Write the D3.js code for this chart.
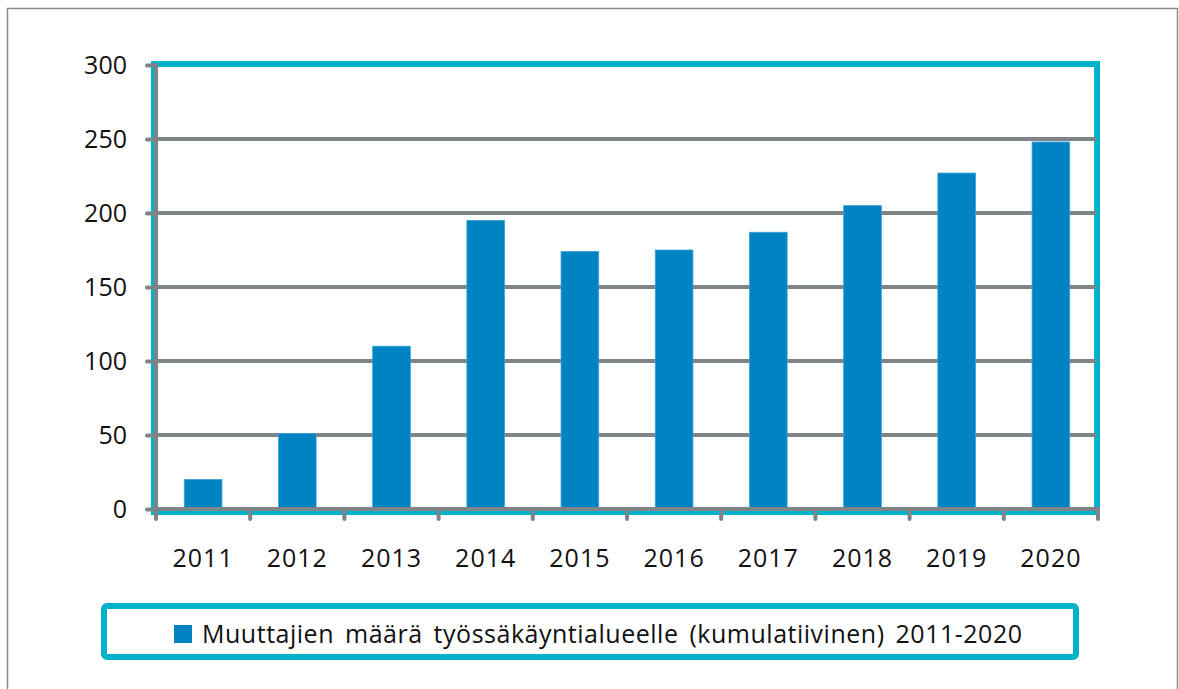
<!DOCTYPE html>
<html>
<head>
<meta charset="utf-8">
<script src="https://cdn.jsdelivr.net/npm/d3@7"></script>
<style>
  html, body { margin: 0; padding: 0; background: #fff; }
  svg { display: block; }
  text { font-family: "Open Sans", "Noto Sans", sans-serif; fill: #111; }
</style>
</head>
<body>
<svg id="chart" width="1179" height="689"></svg>
<script>
// Muuttajien määrä työssäkäyntialueelle, kumulatiivinen
const years = ["2011","2012","2013","2014","2015","2016","2017","2018","2019","2020"];
const values = [20, 51, 110, 195, 174, 175, 187, 205, 227, 248];
const yTicks = [0, 50, 100, 150, 200, 250, 300];
const seriesName = "Muuttajien määrä työssäkäyntialueelle (kumulatiivinen) 2011-2020";

const svg = d3.select("#chart");
const W = 1179, H = 689;
const plot = { left: 156, right: 1098, top: 65, bottom: 509 };
const grey = "#7f8488", cyan = "#00b3ca", blue = "#0083c3";

// outer chart frame
svg.append("rect")
  .attr("x", 7.5).attr("y", 8.5)
  .attr("width", 1170).attr("height", 690)
  .attr("fill", "#fff").attr("stroke", "#8a8a8a").attr("stroke-width", 1.5);

const x = d3.scaleBand().domain(years).range([plot.left, plot.right]).paddingInner(0.6).paddingOuter(0.3);
const y = d3.scaleLinear().domain([0, 300]).range([plot.bottom, plot.top]);

// plot-area border
svg.append("rect")
  .attr("x", plot.left - 2).attr("y", plot.top - 1)
  .attr("width", plot.right - plot.left + 1).attr("height", plot.bottom - plot.top + 4)
  .attr("fill", "none").attr("stroke", cyan).attr("stroke-width", 6);

// horizontal gridlines
svg.append("g").selectAll("line")
  .data(yTicks.filter(d => d > 0 && d < 300))
  .join("line")
  .attr("x1", plot.left).attr("x2", plot.right - 2)
  .attr("y1", d => y(d)).attr("y2", d => y(d))
  .attr("stroke", grey).attr("stroke-width", 4);

// bars
svg.append("g").selectAll("rect")
  .data(values)
  .join("rect")
  .attr("x", (d, i) => x(years[i]))
  .attr("y", d => y(d))
  .attr("width", x.bandwidth())
  .attr("height", d => y(0) - y(d))
  .attr("fill", blue)
  .attr("stroke", "#3aa3d8").attr("stroke-width", 0.8);

// y axis
const yAxis = d3.axisLeft(y).tickValues(yTicks).tickSize(9).tickPadding(20);
const gy = svg.append("g").attr("transform", `translate(${plot.left},0)`).call(yAxis);
gy.select(".domain").attr("stroke", grey).attr("stroke-width", 4).attr("d", `M0,${plot.top - 2}V${plot.bottom + 2}`);
gy.selectAll(".tick line").attr("stroke", grey).attr("stroke-width", 4).attr("stroke-linecap", "round");
gy.selectAll(".tick text").attr("font-size", 25).attr("font-family", "Open Sans, sans-serif").attr("fill", "#111");

// x axis with ticks on category boundaries
const gx = svg.append("g").attr("transform", `translate(0,${plot.bottom})`);
gx.append("line")
  .attr("x1", plot.left).attr("x2", plot.right + 2)
  .attr("stroke", grey).attr("stroke-width", 4);
const step = x.step();
const bounds = d3.range(years.length + 1).map(i => plot.left + i * (plot.right - plot.left) / years.length);
gx.selectAll("line.tk").data(bounds).join("line").attr("class", "tk")
  .attr("x1", d => d).attr("x2", d => d).attr("y1", 0).attr("y2", 10)
  .attr("stroke", grey).attr("stroke-width", 4).attr("stroke-linecap", "round");
gx.selectAll("text").data(years).join("text")
  .attr("x", d => x(d) + x.bandwidth() / 2)
  .attr("y", 58)
  .attr("text-anchor", "middle")
  .attr("font-size", 25)
  .attr("letter-spacing", 1)
  .text(d => d);

// legend
const lg = svg.append("g");
lg.append("rect")
  .attr("x", 104).attr("y", 606).attr("width", 972).attr("height", 51)
  .attr("rx", 3)
  .attr("fill", "#fff").attr("stroke", cyan).attr("stroke-width", 6);
lg.append("rect")
  .attr("x", 174).attr("y", 625).attr("width", 18).attr("height", 18)
  .attr("fill", blue);
lg.append("text")
  .attr("x", 202).attr("y", 643)
  .attr("font-size", 25)
  .attr("word-spacing", 4)
  .attr("textLength", 820)
  .attr("lengthAdjust", "spacing")
  .text(seriesName);
</script>
</body>
</html>
